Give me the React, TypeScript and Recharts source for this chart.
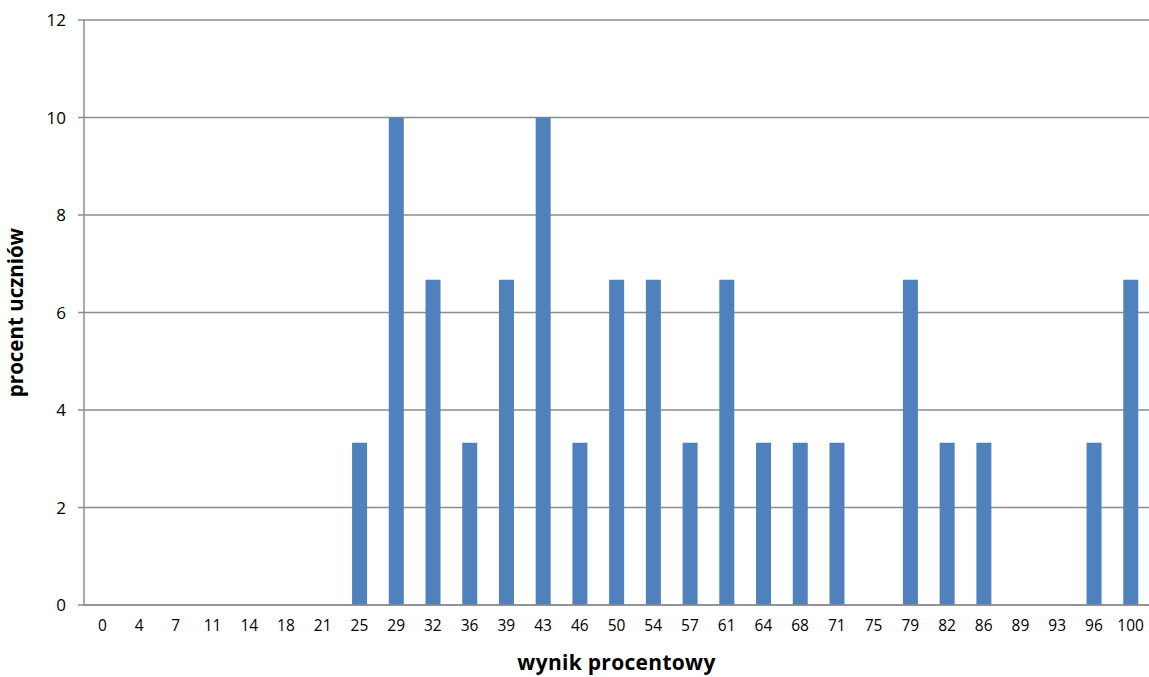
import React from 'react';
import { BarChart, Bar, XAxis, YAxis, CartesianGrid, Label } from 'recharts';

const scores = [
  '0', '4', '7', '11', '14', '18', '21', '25', '29', '32', '36', '39', '43', '46', '50',
  '54', '57', '61', '64', '68', '71', '75', '79', '82', '86', '89', '93', '96', '100'
];

const percents = [
  0, 0, 0, 0, 0, 0, 0, 3.33, 10, 6.67, 3.33, 6.67, 10, 3.33, 6.67,
  6.67, 3.33, 6.67, 3.33, 3.33, 3.33, 0, 6.67, 3.33, 3.33, 0, 0, 3.33, 6.67
];

const yTicks = [0, 2, 4, 6, 8, 10, 12];

const data = scores.map((s, i) => ({ score: s, value: percents[i] }));

const font = 'Open Sans, Liberation Sans, sans-serif';

export default function App() {
  return (
    <div style={{ position: 'absolute', left: 0, top: 0, fontFamily: font }}>
      <BarChart
        width={1149}
        height={677}
        data={data}
        margin={{ top: 20, right: 0, left: 0, bottom: 32 }}
        barCategoryGap={0}
      >
        <CartesianGrid vertical={false} stroke="#8c8c8c" strokeWidth={1.5} />
        <XAxis
          dataKey="score"
          axisLine={{ stroke: '#8c8c8c', strokeWidth: 1.5 }}
          tickLine={false}
          tickSize={8}
          tickMargin={7}
          interval={0}
          height={40}
          tick={{ fill: '#000', fontSize: 15.5, fontFamily: font }}
        >
          <Label
            value="wynik procentowy"
            position="insideBottom"
            offset={-25}
            style={{ fill: '#000', fontSize: 21, fontWeight: 700, fontFamily: font, letterSpacing: 0.3 }}
          />
        </XAxis>
        <YAxis
          domain={[0, 12]}
          ticks={yTicks}
          width={84}
          axisLine={{ stroke: '#8c8c8c', strokeWidth: 1.5 }}
          tickLine={{ stroke: '#8c8c8c', strokeWidth: 1.5 }}
          tickSize={6}
          tickMargin={12}
          tick={{ fill: '#000', fontSize: 17, fontFamily: font }}
        >
          <Label
            value="procent uczniów"
            angle={-90}
            position="insideLeft"
            offset={16}
            style={{ fill: '#000', fontSize: 20.5, fontWeight: 700, fontFamily: font, textAnchor: 'middle' }}
          />
        </YAxis>
        <Bar dataKey="value" fill="#4F81BD" barSize={15} isAnimationActive={false} />
      </BarChart>
    </div>
  );
}
